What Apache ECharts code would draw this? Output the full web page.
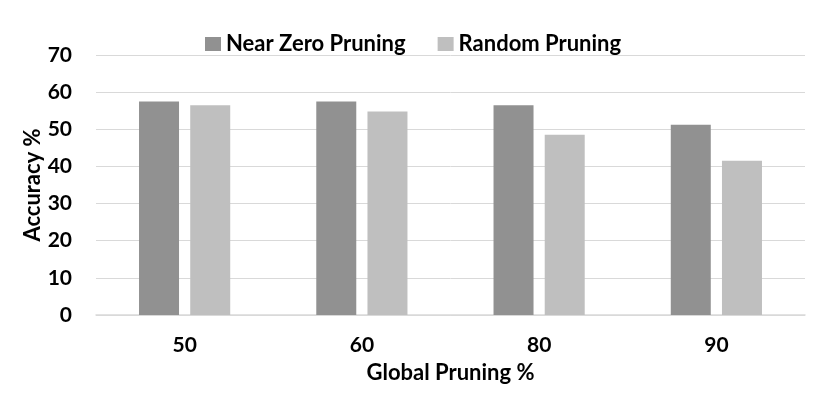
<!DOCTYPE html>
<html><head><meta charset="utf-8">
<script src="https://cdn.jsdelivr.net/npm/echarts@6/dist/echarts.min.js"></script>
<style>html,body{margin:0;padding:0;background:#fff}#c{width:830px;height:415px}</style>
</head><body><div id="c"></div>
<script>
const categories = ['50', '60', '80', '90'];
const nearZero = [57.5, 57.5, 56.5, 51.2];
const randomPr = [56.5, 54.8, 48.5, 41.5];
const yTicks = { min: 0, max: 70, interval: 10 };

const font = 'Lato';
const chart = echarts.init(document.getElementById('c'));
chart.setOption({
  animation: false,
  textStyle: { fontFamily: font },
  legend: {
    top: 28, left: 200, itemWidth: 16, itemHeight: 14, itemGap: 32,
    icon: 'rect',
    textStyle: { fontFamily: font, fontWeight: 'bold', fontSize: 22, color: '#000', padding: [0, 0, 0, 0] },
    data: ['Near Zero Pruning', 'Random Pruning']
  },
  grid: { left: 96, right: 25, top: 55, bottom: 100 },
  xAxis: {
    type: 'category', data: categories,
    name: 'Global Pruning %', nameLocation: 'middle', nameGap: 47,
    nameTextStyle: { fontFamily: font, fontWeight: 'bold', fontSize: 22, color: '#000' },
    axisLine: { lineStyle: { color: '#d9d9d9', width: 1.5 } },
    axisTick: { show: false },
    axisLabel: { fontFamily: font, fontWeight: 'bold', fontSize: 21, color: '#000', margin: 20 }
  },
  yAxis: {
    type: 'value', min: yTicks.min, max: yTicks.max, interval: yTicks.interval,
    name: 'Accuracy %', nameLocation: 'middle', nameGap: 52, nameMoveOverlap: false,
    nameTextStyle: { fontFamily: font, fontWeight: 'bold', fontSize: 22, color: '#000' },
    axisLine: { show: false }, axisTick: { show: false },
    splitLine: { lineStyle: { color: '#d9d9d9', width: 1 } },
    axisLabel: { fontFamily: font, fontWeight: 'bold', fontSize: 21, color: '#000', margin: 24 }
  },
  series: [
    { name: 'Near Zero Pruning', type: 'bar', data: nearZero, barWidth: 40, barGap: '28%',
      itemStyle: { color: '#919191' } },
    { name: 'Random Pruning', type: 'bar', data: randomPr, barWidth: 40,
      itemStyle: { color: '#bfbfbf' } }
  ]
});
</script></body></html>
